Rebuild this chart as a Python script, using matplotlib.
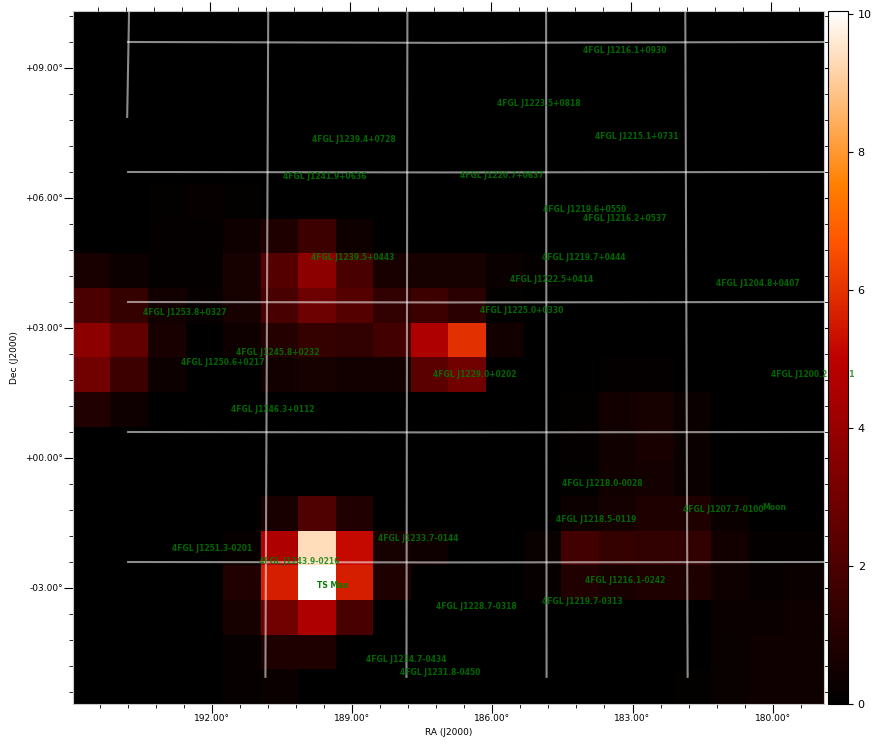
import numpy as np
import matplotlib
matplotlib.use('Agg')
import matplotlib.pyplot as plt

# TS map values, top row first
ts_rows = [
    [0]*20,
    [0]*20,
    [0]*20,
    [0]*20,
    [0]*20,
    [0,0,.1,.2,.08,0,0,0,0,0,0,0,0,0,0,0,0,0,0,0],
    [0,0,.15,.12,.4,.8,1.6,.4,0,0,0,0,0,0,0,0,0,0,0,0],
    [.7,.35,.15,.15,.6,2.2,3.7,1.9,.7,.6,.6,.3,.15,0,0,0,0,0,0,0],
    [2.0,1.4,.5,.2,.6,1.9,2.9,2.2,1.3,1.6,1.1,.1,0,0,0,0,0,0,0,0],
    [3.7,2.6,.7,.05,.4,1.0,1.4,1.3,1.8,4.6,6.0,.5,0,0,0,0,0,0,0,0],
    [3.0,1.6,.35,0,0,.5,.6,.5,.5,2.4,3.0,0,0,0,.15,.15,0,0,0,0],
    [.9,.4,0,0,0,.05,.05,.05,0,0,0,0,0,.1,.5,.6,.3,0,0,0],
    [0,0,0,0,0,0,0,0,0,0,0,0,0,.15,.45,.65,.3,0,0,0],
    [0,0,0,0,0,0,0,0,0,0,0,0,0,.1,.45,.55,.3,0,0,0],
    [0,0,0,0,0,.7,2.1,.9,0,0,0,0,0,.35,.55,.85,.85,.3,0,0],
    [0,0,0,0,.2,4.6,9.35,5.2,.6,.4,0,0,.25,1.8,1.4,1.3,1.3,.5,.15,.15],
    [0,0,0,0,.9,5.6,10.04,5.6,.8,0,0,0,.2,.9,.7,.8,.8,.4,.2,.3],
    [0,0,0,0,.6,3.0,4.6,1.9,0,0,0,0,0,0,0,0,.05,.3,.3,.4],
    [0,0,0,0,.2,.8,.8,0,0,0,0,0,0,0,0,0,0,.25,.4,.4],
    [0,0,0,0,.2,.3,0,0,0,0,0,0,0,0,0,0,.1,.25,.4,.4],
]

# image edges
ra_left = 194.98
ra_right = 178.9
dec_top = 10.315
dec_bottom = -5.677

# grid lines
grid_ra_top = [193.78, 190.80, 187.82, 184.85, 181.87]
grid_ra_bottom = [193.82, 190.86, 187.84, 184.84, 181.82]
grid_dec_low = [7.87, -5.05, -5.05, -5.05, -5.05]
grid_dec = [9.6, 6.6, 3.6, 0.6, -2.4]
grid_sag = [-0.02, -0.01, -0.01, -0.01, -0.01]

src_names = ['4FGL J1216.1+0930', '4FGL J1223.5+0818', '4FGL J1215.1+0731', '4FGL J1239.4+0728',
             '4FGL J1241.9+0636', '4FGL J1220.7+0637', '4FGL J1219.6+0550', '4FGL J1216.2+0537',
             '4FGL J1239.5+0443', '4FGL J1219.7+0444', '4FGL J1222.5+0414', '4FGL J1204.8+0407',
             '4FGL J1253.8+0327', '4FGL J1225.0+0330', '4FGL J1245.8+0232', '4FGL J1250.6+0217',
             '4FGL J1229.0+0202', '4FGL J1200.2+0201', '4FGL J1246.3+0112', '4FGL J1218.0-0028',
             '4FGL J1207.7-0100', '4FGL J1218.5-0119', '4FGL J1233.7-0144', '4FGL J1251.3-0201',
             '4FGL J1243.9-0216', '4FGL J1216.1-0242', '4FGL J1219.7-0313', '4FGL J1228.7-0318',
             '4FGL J1234.7-0434', '4FGL J1231.8-0450']
src_left_ra = [184.07, 185.90, 183.80, 189.86, 190.48, 186.69, 184.91, 184.05, 189.88, 184.93, 185.62,
               181.21, 193.48, 186.26, 191.49, 192.66, 187.27, 180.03, 191.59, 184.50, 181.91, 184.63,
               188.44, 192.86, 190.99, 184.01, 184.93, 187.20, 188.70, 187.97]
src_dec = [9.41, 8.18, 7.43, 7.36, 6.50, 6.53, 5.74, 5.52, 4.62, 4.62, 4.11, 4.02, 3.36, 3.41, 2.44,
           2.21, 1.92, 1.92, 1.13, -0.58, -1.20, -1.43, -1.85, -2.10, -2.40, -2.82, -3.32, -3.42,
           -4.66, -4.94]


def main():
    ts = np.array(ts_rows)
    fig = plt.figure(figsize=(8.82, 7.47), dpi=100)
    ax = fig.add_axes([73/882, 1-704/747, 751/882, 693/747])
    im = ax.imshow(ts, cmap='gist_heat', vmin=0, vmax=10.04, aspect='auto',
                   extent=[ra_left, ra_right, dec_bottom, dec_top], interpolation='nearest')

    # curved grid
    for rt, rb, dl in zip(grid_ra_top, grid_ra_bottom, grid_dec_low):
        ax.plot([rt, rb], [dec_top-0.02, dl], color='white', alpha=0.55, lw=1.5)
    for d, s in zip(grid_dec, grid_sag):
        ax.plot([193.8, 187.0, 178.9], [d, d+s, d], color='white', alpha=0.55, lw=1.5)
    ax.set_xlim(ra_left, ra_right)
    ax.set_ylim(dec_bottom, dec_top)

    for n, r, d in zip(src_names, src_left_ra, src_dec):
        ax.text(r, d, n, color='green', fontsize=5.5, ha='left', va='center', clip_on=False,
                fontweight='bold', alpha=0.8)
    ax.text(180.22, -1.15, 'Moon', color='green', fontsize=5.5, ha='left', va='center', fontweight='bold', alpha=0.8)
    ax.text(189.75, -2.95, 'TS Max', color='green', fontsize=5.5, ha='left', va='center', fontweight='bold')

    xt = [192, 189, 186, 183, 180]
    yt = [9, 6, 3, 0, -3]
    ax.set_xticks(xt)
    ax.set_xticklabels(['%.2f°' % v for v in xt], fontsize=6.5)
    ax.set_yticks(yt)
    ax.set_yticklabels(['%+06.2f°' % v for v in yt], fontsize=6.5)
    ax.set_xticks(np.arange(179.4, 195, 0.6), minor=True)
    ax.set_yticks(np.arange(-5.4, 10.3, 0.6), minor=True)
    ax.tick_params(which='major', length=6.7, width=0.8, right=True, pad=0.6)
    ax.tick_params(which='minor', length=3.2, width=0.6, right=True)
    ax.set_xlabel('RA (J2000)', fontsize=6.5, labelpad=3.7)
    ax.set_ylabel('Dec (J2000)', fontsize=6.5, labelpad=4.4)
    for s in ax.spines.values():
        s.set_color('#c8c8c8')

    # top ticks are offset a little from the bottom ones
    top = ax.twiny()
    top.set_xlim(ra_left-0.04, ra_right-0.04)
    top.set_xticks(xt)
    top.set_xticks(np.arange(179.4, 195, 0.6), minor=True)
    top.set_xticklabels([])
    top.tick_params(which='major', length=6.7, width=0.8)
    top.tick_params(which='minor', length=3.2, width=0.6)
    for s in top.spines.values():
        s.set_visible(False)

    cax = fig.add_axes([828/882, 1-704/747, 20/882, 693/747])
    cb = fig.colorbar(im, cax=cax)
    cb.set_ticks([0, 2, 4, 6, 8, 10])
    cb.ax.tick_params(labelsize=8, length=3.5, width=0.8)

    plt.savefig('out.png', dpi=100)


main()
